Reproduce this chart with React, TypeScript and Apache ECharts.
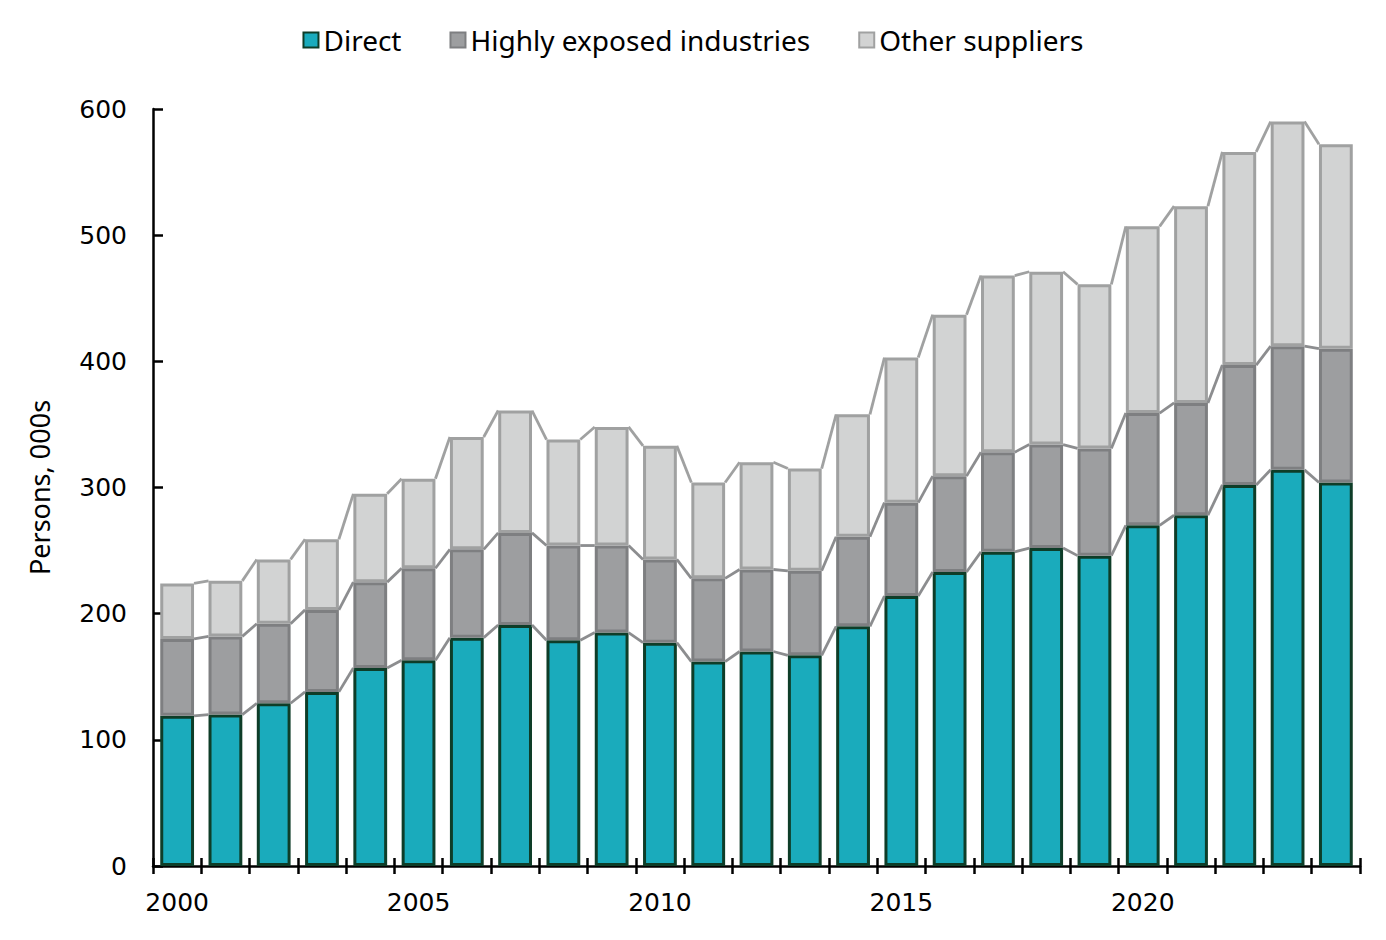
import React, { useEffect, useRef } from "react";
import * as echarts from "echarts";

const years = [
  "2000", "2001", "2002", "2003", "2004", "2005", "2006", "2007", "2008", "2009",
  "2010", "2011", "2012", "2013", "2014", "2015", "2016", "2017", "2018", "2019",
  "2020", "2021", "2022", "2023", "2024",
];
const direct = [119, 120, 129, 138, 157, 163, 181, 191, 179, 185, 177, 162, 170, 167, 190, 214, 233, 249, 252, 246, 270, 278, 302, 314, 304];
const highlyExposed = [61, 62, 63, 65, 68, 73, 70, 73, 75, 69, 66, 66, 65, 67, 71, 74, 76, 79, 82, 85, 89, 89, 95, 98, 106];
const otherSuppliers = [44, 44, 51, 56, 70, 71, 89, 97, 84, 94, 90, 76, 85, 81, 97, 115, 128, 140, 137, 130, 148, 156, 169, 178, 162];
const yTicks = [0, 100, 200, 300, 400, 500, 600];

const BAR_RATIO = 0.7;
const FONT = "DejaVu Sans";
const LEGEND_FONT = "Noto Sans";

function cumulative(arrs: number[][]) {
  return years.map((_, i) => arrs.reduce((s, a) => s + a[i], 0));
}

function seriesLine(name: string, cum: number[], color: string) {
  const data = cum.slice(0, -1).map((v, i) => [i, v, cum[i + 1]]);
  return {
    name,
    type: "custom",
    coordinateSystem: "cartesian2d",
    xAxisIndex: 0,
    yAxisIndex: 0,
    z: 5,
    silent: true,
    encode: { x: 0, y: 1 },
    data,
    renderItem: (params: any, api: any) => {
      const i = api.value(0);
      const p1 = api.coord([i, api.value(1)]);
      const p2 = api.coord([i + 1, api.value(2)]);
      const hw = (api.size([1, 0])[0] * BAR_RATIO) / 2;
      return {
        type: "line",
        shape: { x1: p1[0] + hw, y1: p1[1], x2: p2[0] - hw, y2: p2[1] },
        style: { stroke: color, lineWidth: 2.8 },
      };
    },
  };
}

export default function App() {
  const ref = useRef<HTMLDivElement>(null);
  useEffect(() => {
    if (!ref.current) return;
    const chart = echarts.init(ref.current, undefined, { renderer: "svg" });
    const c1 = cumulative([direct]);
    const c2 = cumulative([direct, highlyExposed]);
    const c3 = cumulative([direct, highlyExposed, otherSuppliers]);
    const barBase = {
      type: "bar",
      stack: "total",
      barWidth: `${BAR_RATIO * 100}%`,
      xAxisIndex: 0,
      yAxisIndex: 0,
    };
    chart.setOption({
      animation: false,
      backgroundColor: "#ffffff",
      legend: {
        data: ["Direct", "Highly exposed industries", "Other suppliers"],
        top: 13,
        left: "center",
        icon: "rect",
        itemWidth: 15,
        itemHeight: 15,
        itemGap: 48,
        textStyle: { fontFamily: LEGEND_FONT, fontSize: 28, color: "#000" },
      },
      grid: { left: 145, right: 18, top: 101, bottom: 66, containLabel: false },
      xAxis: [
        {
          type: "category",
          data: years,
          boundaryGap: true,
          axisLine: { lineStyle: { color: "#000", width: 2.5 } },
          axisTick: { show: true, interval: 0, alignWithLabel: false, inside: false, length: 8, lineStyle: { color: "#000", width: 2.5 } },
          axisLabel: { interval: 4, fontFamily: FONT, fontSize: 25, color: "#000", margin: 24 },
          splitLine: { show: false },
        },
        {
          type: "category",
          data: years,
          position: "bottom",
          boundaryGap: true,
          axisLine: { show: false },
          axisTick: { show: true, interval: 0, alignWithLabel: false, inside: true, length: 8, lineStyle: { color: "#000", width: 2.5 } },
          axisLabel: { show: false },
          splitLine: { show: false },
        },
      ],
      yAxis: {
        type: "value",
        min: yTicks[0],
        max: yTicks[yTicks.length - 1],
        interval: 100,
        name: "Persons, 000s",
        nameLocation: "middle",
        nameGap: 100,
        nameRotate: 90,
        nameTextStyle: { fontFamily: LEGEND_FONT, fontSize: 27, color: "#000" },
        axisLine: { show: true, lineStyle: { color: "#000", width: 2.5 } },
        axisTick: { show: true, inside: true, length: 10, lineStyle: { color: "#000", width: 2.5 } },
        axisLabel: { fontFamily: FONT, fontSize: 25, color: "#000", margin: 26 },
        splitLine: { show: false },
      },
      series: [
        {
          ...barBase,
          name: "Direct",
          data: direct,
          itemStyle: { color: "#1aabbc", borderColor: "#0e3d28", borderWidth: 3 },
        },
        {
          ...barBase,
          name: "Highly exposed industries",
          data: highlyExposed,
          itemStyle: { color: "#9d9ea0", borderColor: "#7e7f81", borderWidth: 3 },
        },
        {
          ...barBase,
          name: "Other suppliers",
          data: otherSuppliers,
          itemStyle: { color: "#d2d3d3", borderColor: "#a0a1a1", borderWidth: 3 },
        },
        seriesLine("line-direct", c1, "#8c8d8f"),
        seriesLine("line-highly", c2, "#8c8d8f"),
        seriesLine("line-total", c3, "#a0a1a1"),
      ],
    });
    return () => chart.dispose();
  }, []);
  return <div ref={ref} style={{ width: 1370, height: 924 }} />;
}
